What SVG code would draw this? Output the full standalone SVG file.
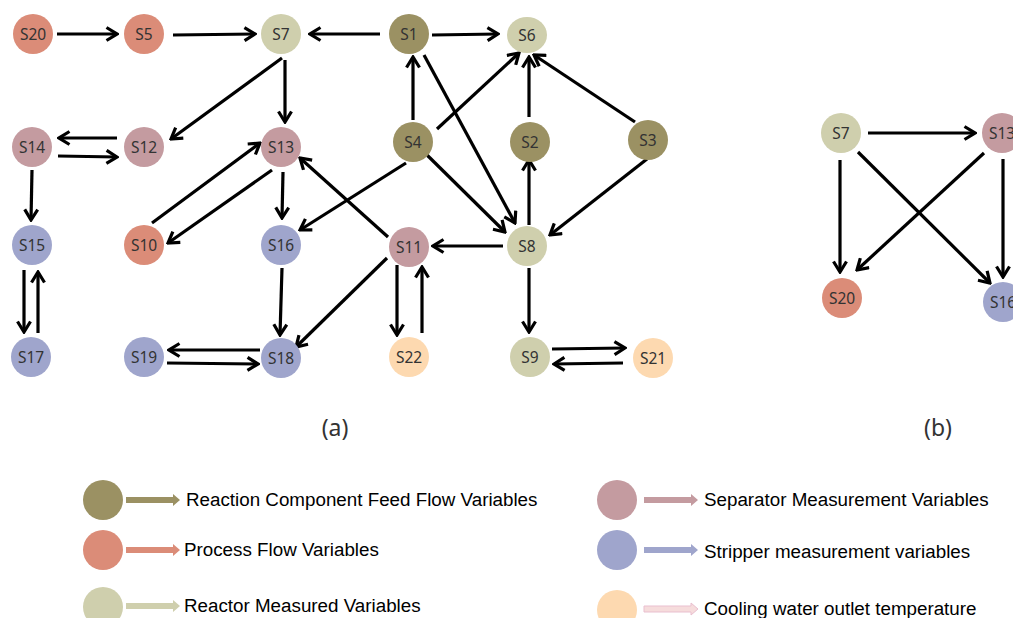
<svg xmlns="http://www.w3.org/2000/svg" width="1013" height="618" viewBox="0 0 1013 618">
<style>
.n text{font-family:"Noto Sans","DejaVu Sans",sans-serif;font-size:15.5px;fill:#333;text-anchor:middle;dominant-baseline:central}
.feed{fill:#9b9163}.proc{fill:#db8c78}.reac{fill:#cfcfad}.sep{fill:#c49ba0}.strip{fill:#9fa5cc}.cool{fill:#fdd9b0}
#edges line{stroke:#000;stroke-width:3.2;fill:none;marker-end:url(#ah)}
.lab{font-family:"Noto Sans","DejaVu Sans",sans-serif;font-size:23px;fill:#333;text-anchor:middle}
.leg{font-family:"Liberation Sans",Arial,sans-serif;font-size:18.8px;fill:#000}
</style>
<defs>
<marker id="ah" markerUnits="userSpaceOnUse" viewBox="0 0 14 16" markerWidth="14" markerHeight="16" refX="12" refY="8" orient="auto">
<path d="M1.5,1.5 L12,8 L1.5,14.5" fill="none" stroke="#000" stroke-width="3.2"/>
</marker>
</defs>
<rect width="1013" height="618" fill="#fff"/>
<g id="edges">
<line x1="57" y1="34" x2="117" y2="34"/>
<line x1="173" y1="35" x2="255" y2="34"/>
<line x1="380" y1="34" x2="310" y2="34"/>
<line x1="432" y1="35" x2="498" y2="34"/>
<line x1="282" y1="58" x2="171" y2="139"/>
<line x1="285" y1="60" x2="285" y2="122"/>
<line x1="117" y1="138" x2="59" y2="138"/>
<line x1="58" y1="156" x2="117" y2="157"/>
<line x1="32" y1="170" x2="31" y2="220"/>
<line x1="24" y1="270" x2="24" y2="332"/>
<line x1="38" y1="333" x2="38" y2="272"/>
<line x1="152" y1="223" x2="260" y2="143"/>
<line x1="272" y1="170" x2="168" y2="243"/>
<line x1="283" y1="172" x2="282" y2="218"/>
<line x1="388" y1="237" x2="300" y2="158"/>
<line x1="406" y1="163" x2="300" y2="230"/>
<line x1="282" y1="268" x2="280" y2="335"/>
<line x1="387" y1="258" x2="296" y2="347"/>
<line x1="260" y1="350" x2="169" y2="350"/>
<line x1="167" y1="363" x2="258" y2="364"/>
<line x1="413" y1="120" x2="413" y2="57"/>
<line x1="437" y1="129" x2="519" y2="53"/>
<line x1="424" y1="55" x2="515" y2="223"/>
<line x1="427" y1="155" x2="505" y2="232"/>
<line x1="529" y1="225" x2="529" y2="160"/>
<line x1="529" y1="117" x2="529" y2="57"/>
<line x1="635" y1="122" x2="534" y2="55"/>
<line x1="647" y1="159" x2="550" y2="235"/>
<line x1="503" y1="246" x2="433" y2="246"/>
<line x1="397" y1="265" x2="397" y2="335"/>
<line x1="422" y1="333" x2="422" y2="267"/>
<line x1="529" y1="268" x2="529" y2="332"/>
<line x1="552" y1="349" x2="625" y2="348"/>
<line x1="623" y1="363" x2="554" y2="364"/>
<line x1="868" y1="133" x2="975" y2="133"/>
<line x1="840" y1="160" x2="840" y2="272"/>
<line x1="858" y1="152" x2="990" y2="283"/>
<line x1="984" y1="153" x2="857" y2="270"/>
<line x1="1003" y1="159" x2="1003" y2="277"/>
</g>
<g class="n" id="S20"><circle class="proc" cx="33" cy="34" r="20"/><text x="33" y="34">S20</text></g>
<g class="n" id="S5"><circle class="proc" cx="144" cy="34" r="20"/><text x="144" y="34">S5</text></g>
<g class="n" id="S7"><circle class="reac" cx="281" cy="34" r="20"/><text x="281" y="34">S7</text></g>
<g class="n" id="S1"><circle class="feed" cx="409" cy="34" r="20"/><text x="409" y="34">S1</text></g>
<g class="n" id="S6"><ellipse class="reac" cx="527" cy="35" rx="20" ry="18"/><text x="527" y="35">S6</text></g>
<g class="n" id="S14"><circle class="sep" cx="32" cy="147" r="20"/><text x="32" y="147">S14</text></g>
<g class="n" id="S12"><circle class="sep" cx="144" cy="147" r="20"/><text x="144" y="147">S12</text></g>
<g class="n" id="S13"><circle class="sep" cx="281" cy="147" r="20"/><text x="281" y="147">S13</text></g>
<g class="n" id="S4"><circle class="feed" cx="413" cy="142" r="20"/><text x="413" y="142">S4</text></g>
<g class="n" id="S2"><circle class="feed" cx="530" cy="142" r="20"/><text x="530" y="142">S2</text></g>
<g class="n" id="S3"><circle class="feed" cx="648" cy="140" r="20"/><text x="648" y="140">S3</text></g>
<g class="n" id="S15"><circle class="strip" cx="32" cy="245" r="20"/><text x="32" y="245">S15</text></g>
<g class="n" id="S10"><circle class="proc" cx="144" cy="245" r="20"/><text x="144" y="245">S10</text></g>
<g class="n" id="S16"><circle class="strip" cx="281" cy="245" r="20"/><text x="281" y="245">S16</text></g>
<g class="n" id="S11"><circle class="sep" cx="409" cy="247" r="20"/><text x="409" y="247">S11</text></g>
<g class="n" id="S8"><circle class="reac" cx="527" cy="246" r="20"/><text x="527" y="246">S8</text></g>
<g class="n" id="S17"><circle class="strip" cx="31" cy="357" r="20"/><text x="31" y="357">S17</text></g>
<g class="n" id="S19"><circle class="strip" cx="144" cy="357" r="20"/><text x="144" y="357">S19</text></g>
<g class="n" id="S18"><circle class="strip" cx="281" cy="358" r="20"/><text x="281" y="358">S18</text></g>
<g class="n" id="S22"><circle class="cool" cx="409" cy="357" r="20"/><text x="409" y="357">S22</text></g>
<g class="n" id="S9"><circle class="reac" cx="530" cy="357" r="20"/><text x="530" y="357">S9</text></g>
<g class="n" id="S21"><circle class="cool" cx="653" cy="358" r="20"/><text x="653" y="358">S21</text></g>
<g class="n" id="b_S7"><circle class="reac" cx="841" cy="133" r="20"/><text x="841" y="133">S7</text></g>
<g class="n" id="b_S13"><circle class="sep" cx="1002" cy="133" r="20"/><text x="1002" y="133">S13</text></g>
<g class="n" id="b_S20"><circle class="proc" cx="842" cy="298" r="20"/><text x="842" y="298">S20</text></g>
<g class="n" id="b_S16"><circle class="strip" cx="1003" cy="302" r="20"/><text x="1003" y="302">S16</text></g>
<text class="lab" x="335" y="436">(a)</text>
<text class="lab" x="938" y="436">(b)</text>
<g id="legend">
<circle class="feed" cx="103" cy="500" r="20"/>
<path class="feed" d="M126,497 H173 V494 L180,500 L173,506 V503 H126 Z"/>
<text class="leg" x="186" y="506">Reaction Component Feed Flow Variables</text>
<circle class="proc" cx="103" cy="550" r="20"/>
<path class="proc" d="M126,547 H173 V544 L180,550 L173,556 V553 H126 Z"/>
<text class="leg" x="184" y="556">Process Flow Variables</text>
<circle class="reac" cx="103" cy="607" r="20"/>
<path class="reac" d="M126,603 H173 V600 L180,606 L173,612 V609 H126 Z"/>
<text class="leg" x="184" y="612">Reactor Measured Variables</text>
<circle class="sep" cx="617" cy="500" r="20"/>
<path class="sep" d="M644,497 H691 V494 L698,500 L691,506 V503 H644 Z"/>
<text class="leg" x="704" y="506">Separator Measurement Variables</text>
<circle class="strip" cx="617" cy="550" r="20"/>
<path class="strip" d="M644,547 H691 V544 L698,550 L691,556 V553 H644 Z"/>
<text class="leg" x="704" y="558">Stripper measurement variables</text>
<circle class="cool" cx="617" cy="610" r="20"/>
<path d="M644,606 H691 V603 L698,609 L691,615 V612 H644 Z" fill="#f6dcdc" stroke="#e9bfcf" stroke-width="1"/>
<text class="leg" x="704" y="615">Cooling water outlet temperature</text>
</g>
</svg>
